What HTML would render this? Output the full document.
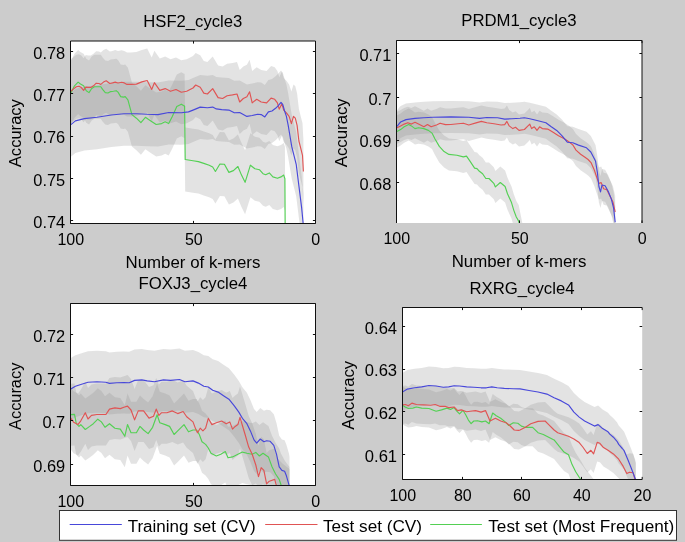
<!DOCTYPE html>
<html><head><meta charset="utf-8"><style>
html,body{margin:0;padding:0;background:#cccccc;}
body{width:685px;height:542px;overflow:hidden;font-family:"Liberation Sans",sans-serif;}
svg{display:block;will-change:transform;}
</style></head><body>
<svg width="685" height="542" viewBox="0 0 685 542" style="font-family:'Liberation Sans',sans-serif;font-size:16px">
<rect x="0" y="0" width="685" height="542" fill="#cccccc"/>
<defs>
<clipPath id="c1"><rect x="70.5" y="41.0" width="245.0" height="182.5"/></clipPath>
<clipPath id="c2"><rect x="396.5" y="40.5" width="245.5" height="182.5"/></clipPath>
<clipPath id="c3"><rect x="70.5" y="303.5" width="245.0" height="182.0"/></clipPath>
<clipPath id="c4"><rect x="402.5" y="307.5" width="239.70000000000005" height="172.0"/></clipPath>
</defs>
<rect x="70.5" y="41.0" width="245.0" height="182.5" fill="#fff"/>
<g clip-path="url(#c1)">
<polygon points="70.0,93.4 75.4,88.9 84.4,86.6 97.0,85.3 111.3,83.0 123.9,81.7 136.4,81.7 147.2,82.3 158.0,82.6 168.7,80.5 181.3,80.8 188.5,79.9 193.0,78.1 200.2,75.1 207.4,75.8 212.7,75.1 216.3,76.9 221.7,77.6 228.9,78.1 234.3,80.8 239.7,80.5 246.9,84.4 252.2,83.5 257.6,82.3 261.2,82.6 264.8,84.9 268.4,79.9 272.0,79.0 275.6,76.3 278.3,73.6 281.0,70.4 282.8,72.7 284.6,79.0 286.4,84.4 288.2,93.4 291.7,114.4 296.2,132.3 298.9,153.9 301.6,175.4 303.4,194.0 303.4,258.0 301.6,239.4 298.9,217.9 296.2,196.3 291.7,178.4 288.2,157.4 286.4,148.4 284.6,143.0 282.8,136.7 281.0,134.4 278.3,137.6 275.6,140.3 272.0,143.0 268.4,143.9 264.8,148.9 261.2,146.6 257.6,146.3 252.2,147.5 246.9,148.4 239.7,144.5 234.3,144.8 228.9,142.1 221.7,141.6 216.3,140.9 212.7,139.1 207.4,139.8 200.2,139.1 193.0,142.1 188.5,143.9 181.3,144.8 168.7,144.5 158.0,146.6 147.2,146.3 136.4,145.7 123.9,145.7 111.3,147.0 97.0,149.3 84.4,150.6 75.4,152.9 70.0,157.4" fill="#8f8f8f" fill-opacity="0.25"/>
<polygon points="70.0,59.5 71.4,58.7 73.6,56.9 76.3,54.7 79.0,54.2 81.3,55.6 83.6,58.3 85.8,55.1 88.1,55.4 90.8,55.4 93.5,53.8 96.2,51.2 99.0,51.5 100.8,52.4 103.5,50.1 106.2,48.8 109.8,51.5 112.5,50.9 115.2,50.1 118.0,51.0 121.6,50.3 124.3,50.9 127.0,52.4 131.0,52.4 136.4,52.1 141.8,49.9 147.2,48.5 151.7,57.5 154.4,50.7 159.8,58.4 165.2,56.6 170.5,59.3 176.0,57.5 181.3,60.2 186.7,59.3 193.0,56.0 195.7,53.0 200.2,55.3 203.8,61.1 207.4,62.0 212.7,56.6 218.1,65.6 222.6,66.5 227.1,63.8 232.5,62.9 237.0,62.0 239.7,70.0 243.3,66.5 246.9,64.7 249.6,59.8 252.2,70.9 256.7,67.3 261.2,70.0 266.6,70.9 271.1,66.1 274.7,67.3 277.4,70.9 279.2,77.2 281.9,71.8 283.7,78.1 286.4,80.8 289.1,84.4 291.4,91.6 293.5,84.4 295.3,86.2 297.1,93.4 298.9,109.0 300.7,116.2 302.5,123.3 303.4,139.5 303.4,203.5 302.5,187.3 300.7,180.2 298.9,173.0 297.1,157.4 295.3,150.2 293.5,148.4 291.4,155.6 289.1,148.4 286.4,144.8 283.7,142.1 281.9,135.8 279.2,141.2 277.4,134.9 274.7,131.3 271.1,130.1 266.6,134.9 261.2,134.0 256.7,131.3 252.2,134.9 249.6,123.8 246.9,128.7 243.3,130.5 239.7,134.0 237.0,126.0 232.5,126.9 227.1,127.8 222.6,130.5 218.1,129.6 212.7,120.6 207.4,126.0 203.8,125.1 200.2,119.3 195.7,117.0 193.0,120.0 186.7,123.3 181.3,124.2 176.0,121.5 170.5,123.3 165.2,120.6 159.8,122.4 154.4,114.7 151.7,121.5 147.2,112.5 141.8,113.9 136.4,116.1 131.0,116.4 127.0,116.4 124.3,114.9 121.6,114.3 118.0,115.0 115.2,114.1 112.5,114.9 109.8,115.5 106.2,112.8 103.5,114.1 100.8,116.4 99.0,115.5 96.2,115.2 93.5,117.8 90.8,119.4 88.1,119.4 85.8,119.1 83.6,122.3 81.3,119.6 79.0,118.2 76.3,118.7 73.6,120.9 71.4,122.7 70.0,123.5" fill="#8f8f8f" fill-opacity="0.25"/>
<polygon points="70.0,61.0 71.4,60.1 74.5,53.8 78.1,50.1 80.4,52.0 83.6,53.8 86.3,58.7 89.0,60.6 91.7,56.5 94.4,54.7 97.1,54.7 100.8,54.7 102.6,57.4 105.3,60.6 108.0,61.0 110.7,59.6 113.4,59.2 116.2,58.7 118.0,60.1 120.7,64.6 123.4,65.1 125.2,64.6 127.9,67.8 131.9,82.6 136.4,86.2 140.9,90.7 145.4,85.3 150.8,88.9 156.2,92.5 161.6,91.6 165.2,89.8 168.7,91.6 172.3,84.4 176.8,74.5 181.3,72.2 183.5,73.6 184.6,74.0 185.2,127.5 193.0,128.7 198.4,129.6 203.8,131.4 209.2,133.2 212.7,135.0 215.4,139.5 219.9,132.0 224.4,132.3 228.9,140.4 233.4,138.6 237.9,134.5 241.5,143.1 245.1,150.3 250.4,133.2 254.9,136.8 259.4,137.7 263.0,141.7 265.7,142.7 269.3,140.9 272.9,144.9 277.4,146.3 281.0,144.9 283.7,143.1 284.9,146.7 285.5,258.0 285.5,322.0 284.9,210.7 283.7,207.1 281.0,208.9 277.4,210.3 272.9,208.9 269.3,204.9 265.7,206.7 263.0,205.7 259.4,201.7 254.9,200.8 250.4,197.2 245.1,214.3 241.5,207.1 237.9,198.5 233.4,202.6 228.9,204.4 224.4,196.3 219.9,196.0 215.4,203.5 212.7,199.0 209.2,197.2 203.8,195.4 198.4,193.6 193.0,192.7 185.2,191.5 184.6,138.0 183.5,137.6 181.3,136.2 176.8,138.5 172.3,148.4 168.7,155.6 165.2,153.8 161.6,155.6 156.2,156.5 150.8,152.9 145.4,149.3 140.9,154.7 136.4,150.2 131.9,146.6 127.9,131.8 125.2,128.6 123.4,129.1 120.7,128.6 118.0,124.1 116.2,122.7 113.4,123.2 110.7,123.6 108.0,125.0 105.3,124.6 102.6,121.4 100.8,118.7 97.1,118.7 94.4,118.7 91.7,120.5 89.0,124.6 86.3,122.7 83.6,117.8 80.4,116.0 78.1,114.1 74.5,117.8 71.4,124.1 70.0,125.0" fill="#8f8f8f" fill-opacity="0.25"/>
<polyline points="70.0,93.0 71.4,92.1 74.5,85.8 78.1,82.1 80.4,84.0 83.6,85.8 86.3,90.7 89.0,92.6 91.7,88.5 94.4,86.7 97.1,86.7 100.8,86.7 102.6,89.4 105.3,92.6 108.0,93.0 110.7,91.6 113.4,91.2 116.2,90.7 118.0,92.1 120.7,96.6 123.4,97.1 125.2,96.6 127.9,99.8 131.9,114.6 136.4,118.2 140.9,122.7 145.4,117.3 150.8,120.9 156.2,124.5 161.6,123.6 165.2,121.8 168.7,123.6 172.3,116.4 176.8,106.5 181.3,104.2 183.5,105.6 184.6,106.0 185.2,159.5 193.0,160.7 198.4,161.6 203.8,163.4 209.2,165.2 212.7,167.0 215.4,171.5 219.9,164.0 224.4,164.3 228.9,172.4 233.4,170.6 237.9,166.5 241.5,175.1 245.1,182.3 250.4,165.2 254.9,168.8 259.4,169.7 263.0,173.7 265.7,174.7 269.3,172.9 272.9,176.9 277.4,178.3 281.0,176.9 283.7,175.1 284.9,178.7 285.5,290.0" fill="none" stroke="#54d054" stroke-width="1.15" stroke-linejoin="round"/>
<polyline points="70.0,91.5 71.4,90.7 73.6,88.9 76.3,86.7 79.0,86.2 81.3,87.6 83.6,90.3 85.8,87.1 88.1,87.4 90.8,87.4 93.5,85.8 96.2,83.2 99.0,83.5 100.8,84.4 103.5,82.1 106.2,80.8 109.8,83.5 112.5,82.9 115.2,82.1 118.0,83.0 121.6,82.3 124.3,82.9 127.0,84.4 131.0,84.4 136.4,84.1 141.8,81.9 147.2,80.5 151.7,89.5 154.4,82.7 159.8,90.4 165.2,88.6 170.5,91.3 176.0,89.5 181.3,92.2 186.7,91.3 193.0,88.0 195.7,85.0 200.2,87.3 203.8,93.1 207.4,94.0 212.7,88.6 218.1,97.6 222.6,98.5 227.1,95.8 232.5,94.9 237.0,94.0 239.7,102.0 243.3,98.5 246.9,96.7 249.6,91.8 252.2,102.9 256.7,99.3 261.2,102.0 266.6,102.9 271.1,98.1 274.7,99.3 277.4,102.9 279.2,109.2 281.9,103.8 283.7,110.1 286.4,112.8 289.1,116.4 291.4,123.6 293.5,116.4 295.3,118.2 297.1,125.4 298.9,141.0 300.7,148.2 302.5,155.3 303.4,171.5" fill="none" stroke="#e05454" stroke-width="1.15" stroke-linejoin="round"/>
<polyline points="70.0,125.4 75.4,120.9 84.4,118.6 97.0,117.3 111.3,115.0 123.9,113.7 136.4,113.7 147.2,114.3 158.0,114.6 168.7,112.5 181.3,112.8 188.5,111.9 193.0,110.1 200.2,107.1 207.4,107.8 212.7,107.1 216.3,108.9 221.7,109.6 228.9,110.1 234.3,112.8 239.7,112.5 246.9,116.4 252.2,115.5 257.6,114.3 261.2,114.6 264.8,116.9 268.4,111.9 272.0,111.0 275.6,108.3 278.3,105.6 281.0,102.4 282.8,104.7 284.6,111.0 286.4,116.4 288.2,125.4 291.7,146.4 296.2,164.3 298.9,185.9 301.6,207.4 303.4,226.0" fill="none" stroke="#4848da" stroke-width="1.15" stroke-linejoin="round"/>
</g>
<path d="M70.5,41.0V223.5M315.5,41.0V223.5M70.5,41.0H315.5M70.5,223.5H315.5M70.5,51.5h2.6M315.5,51.5h-2.6M70.5,93.5h2.6M315.5,93.5h-2.6M70.5,136.5h2.6M315.5,136.5h-2.6M70.5,178.5h2.6M315.5,178.5h-2.6M70.5,220.5h2.6M315.5,220.5h-2.6M70.5,223.5v-2.6M70.5,41.0v2.6M193.5,223.5v-2.6M193.5,41.0v2.6M315.5,223.5v-2.6M315.5,41.0v2.6" stroke="#111" stroke-width="1" fill="none"/>
<g fill="#000">
<text x="65.19" y="58.50" text-anchor="end" textLength="31.89" lengthAdjust="spacingAndGlyphs">0.78</text>
<text x="65.19" y="100.90" text-anchor="end" textLength="31.89" lengthAdjust="spacingAndGlyphs">0.77</text>
<text x="65.19" y="143.25" text-anchor="end" textLength="31.89" lengthAdjust="spacingAndGlyphs">0.76</text>
<text x="65.19" y="185.60" text-anchor="end" textLength="31.89" lengthAdjust="spacingAndGlyphs">0.75</text>
<text x="65.19" y="228.00" text-anchor="end" textLength="31.89" lengthAdjust="spacingAndGlyphs">0.74</text>
<text x="70.8" y="244.80" text-anchor="middle">100</text>
<text x="193.8" y="244.80" text-anchor="middle">50</text>
<text x="315.8" y="244.80" text-anchor="middle">0</text>
<text x="143.30" y="27.10" textLength="99.00" lengthAdjust="spacingAndGlyphs">HSF2_cycle3</text>
<text x="125.50" y="268.30" textLength="134.92" lengthAdjust="spacingAndGlyphs">Number of k-mers</text>
<text transform="translate(20.80,167.20) rotate(-90)" x="0" y="0" textLength="68.10" lengthAdjust="spacingAndGlyphs">Accuracy</text>
</g>
<rect x="396.5" y="40.5" width="245.5" height="182.5" fill="#fff"/>
<g clip-path="url(#c2)">
<polygon points="397.0,110.5 399.0,107.8 400.6,106.0 406.0,103.6 415.0,102.4 423.9,101.8 432.9,101.3 450.9,100.9 468.8,101.3 479.6,102.4 486.8,101.5 497.5,101.8 504.7,103.1 511.9,102.7 520.0,102.2 524.4,101.8 529.8,102.7 537.0,104.5 545.9,106.7 551.3,110.8 556.7,114.4 562.1,119.8 567.3,126.2 572.8,126.8 578.5,129.1 586.5,131.8 590.8,136.0 595.5,145.0 597.4,156.6 598.9,170.5 600.5,175.9 602.0,169.0 605.1,169.7 608.2,175.2 611.3,182.9 613.6,192.2 615.2,206.2 615.2,238.2 613.6,224.2 611.3,214.9 608.2,207.2 605.1,201.7 602.0,201.0 600.5,207.9 598.9,202.5 597.4,188.6 595.5,177.0 590.8,168.0 586.5,163.8 578.5,161.1 572.8,158.8 567.3,158.2 562.1,151.8 556.7,146.4 551.3,142.8 545.9,138.7 537.0,136.5 529.8,134.7 524.4,133.8 520.0,134.2 511.9,134.7 504.7,135.1 497.5,133.8 486.8,133.5 479.6,134.4 468.8,133.3 450.9,132.9 432.9,133.3 423.9,133.8 415.0,134.4 406.0,135.6 400.6,138.0 399.0,139.8 397.0,142.5" fill="#8f8f8f" fill-opacity="0.25"/>
<polygon points="397.0,111.7 400.6,109.9 404.2,108.1 407.8,106.7 411.4,108.1 415.0,106.3 418.5,108.1 423.9,110.8 427.5,108.5 431.1,110.8 436.5,109.0 440.1,107.2 445.5,108.6 450.9,108.5 458.0,107.8 463.4,107.2 468.8,109.0 476.0,106.9 481.4,105.4 486.8,106.7 494.0,107.8 501.1,109.0 504.7,108.6 506.9,105.4 509.2,109.9 512.8,112.6 515.5,111.3 519.0,114.4 524.4,113.5 528.0,109.9 529.8,108.1 531.6,112.6 534.3,110.8 537.0,114.4 539.6,110.8 542.3,112.6 547.7,113.1 553.1,116.2 558.5,119.8 563.9,122.5 569.3,126.1 572.9,129.0 576.0,134.1 580.6,138.2 585.0,141.2 588.1,143.5 591.0,146.6 594.3,154.0 596.8,161.5 598.9,167.4 601.2,166.6 603.6,172.8 606.7,173.6 609.8,179.8 612.9,186.0 615.2,196.0 615.2,228.0 612.9,218.0 609.8,211.8 606.7,205.6 603.6,204.8 601.2,198.6 598.9,199.4 596.8,193.5 594.3,186.0 591.0,178.6 588.1,175.5 585.0,173.2 580.6,170.2 576.0,166.1 572.9,161.0 569.3,158.1 563.9,154.5 558.5,151.8 553.1,148.2 547.7,145.1 542.3,144.6 539.6,142.8 537.0,146.4 534.3,142.8 531.6,144.6 529.8,140.1 528.0,141.9 524.4,145.5 519.0,146.4 515.5,143.3 512.8,144.6 509.2,141.9 506.9,137.4 504.7,140.6 501.1,141.0 494.0,139.8 486.8,138.7 481.4,137.4 476.0,138.9 468.8,141.0 463.4,139.2 458.0,139.8 450.9,140.5 445.5,140.6 440.1,139.2 436.5,141.0 431.1,142.8 427.5,140.5 423.9,142.8 418.5,140.1 415.0,138.3 411.4,140.1 407.8,138.7 404.2,140.1 400.6,141.9 397.0,143.7" fill="#8f8f8f" fill-opacity="0.25"/>
<polygon points="397.0,115.5 400.6,113.6 404.2,110.8 408.7,108.5 411.4,109.9 415.0,112.6 418.5,111.7 423.9,112.6 428.4,114.4 432.0,117.1 435.0,123.0 439.3,130.4 444.1,135.6 448.9,138.4 456.9,139.2 463.3,140.9 466.5,140.1 469.8,144.9 474.6,152.1 477.0,152.6 479.4,155.3 482.6,157.7 485.8,162.5 489.0,162.5 493.8,167.3 495.4,170.9 500.3,166.5 505.1,170.5 507.5,177.8 511.5,186.6 513.9,194.6 516.3,201.0 518.7,205.1 522.5,224.0 526.0,239.0 526.0,271.0 522.5,256.0 518.7,237.1 516.3,233.0 513.9,226.6 511.5,218.6 507.5,209.8 505.1,202.5 500.3,198.5 495.4,202.9 493.8,199.3 489.0,194.5 485.8,194.5 482.6,189.7 479.4,187.3 477.0,184.6 474.6,184.1 469.8,176.9 466.5,172.1 463.3,172.9 456.9,171.2 448.9,170.4 444.1,167.6 439.3,162.4 435.0,155.0 432.0,149.1 428.4,146.4 423.9,144.6 418.5,143.7 415.0,144.6 411.4,141.9 408.7,140.5 404.2,142.8 400.6,145.6 397.0,147.5" fill="#8f8f8f" fill-opacity="0.25"/>
<polyline points="397.0,131.5 400.6,129.6 404.2,126.8 408.7,124.5 411.4,125.9 415.0,128.6 418.5,127.7 423.9,128.6 428.4,130.4 432.0,133.1 435.0,139.0 439.3,146.4 444.1,151.6 448.9,154.4 456.9,155.2 463.3,156.9 466.5,156.1 469.8,160.9 474.6,168.1 477.0,168.6 479.4,171.3 482.6,173.7 485.8,178.5 489.0,178.5 493.8,183.3 495.4,186.9 500.3,182.5 505.1,186.5 507.5,193.8 511.5,202.6 513.9,210.6 516.3,217.0 518.7,221.1 522.5,240.0 526.0,255.0" fill="none" stroke="#54d054" stroke-width="1.15" stroke-linejoin="round"/>
<polyline points="397.0,127.7 400.6,125.9 404.2,124.1 407.8,122.7 411.4,124.1 415.0,122.3 418.5,124.1 423.9,126.8 427.5,124.5 431.1,126.8 436.5,125.0 440.1,123.2 445.5,124.6 450.9,124.5 458.0,123.8 463.4,123.2 468.8,125.0 476.0,122.9 481.4,121.4 486.8,122.7 494.0,123.8 501.1,125.0 504.7,124.6 506.9,121.4 509.2,125.9 512.8,128.6 515.5,127.3 519.0,130.4 524.4,129.5 528.0,125.9 529.8,124.1 531.6,128.6 534.3,126.8 537.0,130.4 539.6,126.8 542.3,128.6 547.7,129.1 553.1,132.2 558.5,135.8 563.9,138.5 569.3,142.1 572.9,145.0 576.0,150.1 580.6,154.2 585.0,157.2 588.1,159.5 591.0,162.6 594.3,170.0 596.8,177.5 598.9,183.4 601.2,182.6 603.6,188.8 606.7,189.6 609.8,195.8 612.9,202.0 615.2,212.0" fill="none" stroke="#e05454" stroke-width="1.15" stroke-linejoin="round"/>
<polyline points="397.0,126.5 399.0,123.8 400.6,122.0 406.0,119.6 415.0,118.4 423.9,117.8 432.9,117.3 450.9,116.9 468.8,117.3 479.6,118.4 486.8,117.5 497.5,117.8 504.7,119.1 511.9,118.7 520.0,118.2 524.4,117.8 529.8,118.7 537.0,120.5 545.9,122.7 551.3,126.8 556.7,130.4 562.1,135.8 567.3,142.2 572.8,142.8 578.5,145.1 586.5,147.8 590.8,152.0 595.5,161.0 597.4,172.6 598.9,186.5 600.5,191.9 602.0,185.0 605.1,185.7 608.2,191.2 611.3,198.9 613.6,208.2 615.2,222.2" fill="none" stroke="#4848da" stroke-width="1.15" stroke-linejoin="round"/>
</g>
<path d="M396.5,40.5V223.0M642.0,40.5V223.0M396.5,40.5H642.0M396.5,53.5h2.6M642.0,53.5h-2.6M396.5,97.5h2.6M642.0,97.5h-2.6M396.5,140.5h2.6M642.0,140.5h-2.6M396.5,182.5h2.6M642.0,182.5h-2.6M396.5,223.0v-2.6M396.5,40.5v2.6M519.5,223.0v-2.6M519.5,40.5v2.6M642.0,223.0v-2.6M642.0,40.5v2.6" stroke="#111" stroke-width="1" fill="none"/>
<g fill="#000">
<text x="391.29" y="60.70" text-anchor="end" textLength="31.89" lengthAdjust="spacingAndGlyphs">0.71</text>
<text x="391.29" y="104.50" text-anchor="end" textLength="22.78" lengthAdjust="spacingAndGlyphs">0.7</text>
<text x="391.29" y="147.30" text-anchor="end" textLength="31.89" lengthAdjust="spacingAndGlyphs">0.69</text>
<text x="391.29" y="189.95" text-anchor="end" textLength="31.89" lengthAdjust="spacingAndGlyphs">0.68</text>
<text x="396.8" y="243.90" text-anchor="middle">100</text>
<text x="519.8" y="243.90" text-anchor="middle">50</text>
<text x="642.3" y="243.90" text-anchor="middle">0</text>
<text x="461.30" y="25.90" textLength="115.21" lengthAdjust="spacingAndGlyphs">PRDM1_cycle3</text>
<text x="451.70" y="266.60" textLength="134.72" lengthAdjust="spacingAndGlyphs">Number of k-mers</text>
<text transform="translate(347.30,167.20) rotate(-90)" x="0" y="0" textLength="68.90" lengthAdjust="spacingAndGlyphs">Accuracy</text>
</g>
<rect x="70.5" y="303.5" width="245.0" height="182.0" fill="#fff"/>
<g clip-path="url(#c3)">
<polygon points="70.0,358.4 75.4,355.3 80.8,353.5 88.0,351.2 97.0,350.7 105.9,351.2 109.5,352.4 116.7,351.7 123.9,351.5 129.2,351.7 134.6,349.4 141.8,348.9 147.2,349.9 154.4,350.7 163.4,348.9 170.5,349.4 179.5,348.5 184.9,350.7 193.0,349.9 198.4,352.1 203.8,355.3 208.3,356.0 212.7,359.3 218.1,361.1 223.5,364.7 228.9,368.2 234.3,374.8 238.8,381.1 242.4,387.3 246.9,392.7 250.4,399.9 254.0,408.9 256.7,412.1 260.3,408.0 263.9,410.7 266.6,409.8 270.2,410.3 273.8,414.3 276.5,423.2 279.2,435.8 281.9,439.4 284.6,440.3 286.4,444.8 289.0,453.8 289.5,457.0 289.5,519.0 289.0,515.8 286.4,506.8 284.6,502.3 281.9,501.4 279.2,497.8 276.5,485.2 273.8,476.3 270.2,472.3 266.6,471.8 263.9,472.7 260.3,470.0 256.7,474.1 254.0,470.9 250.4,461.9 246.9,454.7 242.4,449.3 238.8,443.1 234.3,436.8 228.9,430.2 223.5,426.7 218.1,423.1 212.7,421.3 208.3,418.0 203.8,417.3 198.4,414.1 193.0,411.9 184.9,412.7 179.5,410.5 170.5,411.4 163.4,410.9 154.4,412.7 147.2,411.9 141.8,410.9 134.6,411.4 129.2,413.7 123.9,413.5 116.7,413.7 109.5,414.4 105.9,413.2 97.0,412.7 88.0,413.2 80.8,415.5 75.4,417.3 70.0,420.4" fill="#8f8f8f" fill-opacity="0.25"/>
<polygon points="70.0,386.2 73.6,391.2 78.1,393.4 80.8,389.8 85.3,381.7 88.0,388.0 91.5,384.4 96.9,383.5 102.3,383.5 105.9,383.5 109.5,378.1 114.9,376.9 120.3,377.6 123.9,376.3 127.5,375.1 131.0,379.0 134.6,388.9 138.2,379.9 143.6,379.9 149.0,387.1 153.5,385.3 156.2,378.1 158.9,384.4 161.6,381.7 166.9,381.7 172.3,379.9 177.7,382.6 183.1,380.5 186.7,385.8 193.0,390.9 195.7,398.1 197.5,401.7 200.2,397.2 202.9,399.9 205.6,397.2 208.3,387.3 211.9,393.6 216.3,391.8 221.7,390.0 226.2,392.7 229.8,390.9 232.5,398.1 235.2,395.4 237.9,393.6 240.0,386.4 242.4,394.5 245.1,403.5 248.7,416.1 252.2,423.2 255.8,434.0 258.5,445.7 261.2,436.7 263.9,439.4 266.6,452.9 269.3,450.2 274.7,448.4 275.9,452.9 278.0,459.0 283.0,464.0 289.5,469.0 289.5,531.0 283.0,526.0 278.0,521.0 275.9,514.9 274.7,510.4 269.3,512.2 266.6,514.9 263.9,501.4 261.2,498.7 258.5,507.7 255.8,496.0 252.2,485.2 248.7,478.1 245.1,465.5 242.4,456.5 240.0,448.4 237.9,455.6 235.2,457.4 232.5,460.1 229.8,452.9 226.2,454.7 221.7,452.0 216.3,453.8 211.9,455.6 208.3,449.3 205.6,459.2 202.9,461.9 200.2,459.2 197.5,463.7 195.7,460.1 193.0,452.9 186.7,447.8 183.1,442.5 177.7,444.6 172.3,441.9 166.9,443.7 161.6,443.7 158.9,446.4 156.2,440.1 153.5,447.3 149.0,449.1 143.6,441.9 138.2,441.9 134.6,450.9 131.0,441.0 127.5,437.1 123.9,438.3 120.3,439.6 114.9,438.9 109.5,440.1 105.9,445.5 102.3,445.5 96.9,445.5 91.5,446.4 88.0,450.0 85.3,443.7 80.8,451.8 78.1,455.4 73.6,453.2 70.0,448.2" fill="#8f8f8f" fill-opacity="0.25"/>
<polygon points="70.0,383.7 74.5,383.4 76.3,392.7 79.0,395.4 80.8,393.6 85.3,398.5 89.7,395.4 93.3,392.7 97.8,388.2 101.4,390.9 105.0,396.3 109.5,392.7 114.9,397.2 120.3,398.1 124.8,405.3 127.5,393.6 131.0,401.7 136.4,401.7 140.0,395.4 143.6,399.0 148.1,402.6 152.6,396.3 157.1,383.7 159.8,391.8 165.2,393.6 169.6,395.4 174.1,403.5 177.7,399.9 184.0,393.6 188.5,400.8 193.0,399.0 196.6,399.0 199.3,403.5 202.0,410.7 205.6,413.4 208.3,417.0 211.0,422.3 216.3,425.0 220.8,423.2 225.3,420.6 228.0,426.8 232.5,425.9 237.9,423.2 242.4,421.1 246.9,422.3 252.2,423.2 255.8,421.4 259.4,425.0 263.0,422.3 268.4,425.9 272.0,435.8 275.6,443.0 279.2,448.4 281.0,453.8 285.0,461.0 289.5,467.0 289.5,529.0 285.0,523.0 281.0,515.8 279.2,510.4 275.6,505.0 272.0,497.8 268.4,487.9 263.0,484.3 259.4,487.0 255.8,483.4 252.2,485.2 246.9,484.3 242.4,483.1 237.9,485.2 232.5,487.9 228.0,488.8 225.3,482.6 220.8,485.2 216.3,487.0 211.0,484.3 208.3,479.0 205.6,475.4 202.0,472.7 199.3,465.5 196.6,461.0 193.0,461.0 188.5,462.8 184.0,455.6 177.7,461.9 174.1,465.5 169.6,457.4 165.2,455.6 159.8,453.8 157.1,445.7 152.6,458.3 148.1,464.6 143.6,461.0 140.0,457.4 136.4,463.7 131.0,463.7 127.5,455.6 124.8,467.3 120.3,460.1 114.9,459.2 109.5,454.7 105.0,458.3 101.4,452.9 97.8,450.2 93.3,454.7 89.7,457.4 85.3,460.5 80.8,455.6 79.0,457.4 76.3,454.7 74.5,445.4 70.0,445.7" fill="#8f8f8f" fill-opacity="0.25"/>
<polyline points="70.0,414.7 74.5,414.4 76.3,423.7 79.0,426.4 80.8,424.6 85.3,429.5 89.7,426.4 93.3,423.7 97.8,419.2 101.4,421.9 105.0,427.3 109.5,423.7 114.9,428.2 120.3,429.1 124.8,436.3 127.5,424.6 131.0,432.7 136.4,432.7 140.0,426.4 143.6,430.0 148.1,433.6 152.6,427.3 157.1,414.7 159.8,422.8 165.2,424.6 169.6,426.4 174.1,434.5 177.7,430.9 184.0,424.6 188.5,431.8 193.0,430.0 196.6,430.0 199.3,434.5 202.0,441.7 205.6,444.4 208.3,448.0 211.0,453.3 216.3,456.0 220.8,454.2 225.3,451.6 228.0,457.8 232.5,456.9 237.9,454.2 242.4,452.1 246.9,453.3 252.2,454.2 255.8,452.4 259.4,456.0 263.0,453.3 268.4,456.9 272.0,466.8 275.6,474.0 279.2,479.4 281.0,484.8 285.0,492.0 289.5,498.0" fill="none" stroke="#54d054" stroke-width="1.15" stroke-linejoin="round"/>
<polyline points="70.0,417.2 73.6,422.2 78.1,424.4 80.8,420.8 85.3,412.7 88.0,419.0 91.5,415.4 96.9,414.5 102.3,414.5 105.9,414.5 109.5,409.1 114.9,407.9 120.3,408.6 123.9,407.3 127.5,406.1 131.0,410.0 134.6,419.9 138.2,410.9 143.6,410.9 149.0,418.1 153.5,416.3 156.2,409.1 158.9,415.4 161.6,412.7 166.9,412.7 172.3,410.9 177.7,413.6 183.1,411.5 186.7,416.8 193.0,421.9 195.7,429.1 197.5,432.7 200.2,428.2 202.9,430.9 205.6,428.2 208.3,418.3 211.9,424.6 216.3,422.8 221.7,421.0 226.2,423.7 229.8,421.9 232.5,429.1 235.2,426.4 237.9,424.6 240.0,417.4 242.4,425.5 245.1,434.5 248.7,447.1 252.2,454.2 255.8,465.0 258.5,476.7 261.2,467.7 263.9,470.4 266.6,483.9 269.3,481.2 274.7,479.4 275.9,483.9 278.0,490.0 283.0,495.0 289.5,500.0" fill="none" stroke="#e05454" stroke-width="1.15" stroke-linejoin="round"/>
<polyline points="70.0,389.4 75.4,386.3 80.8,384.5 88.0,382.2 97.0,381.7 105.9,382.2 109.5,383.4 116.7,382.7 123.9,382.5 129.2,382.7 134.6,380.4 141.8,379.9 147.2,380.9 154.4,381.7 163.4,379.9 170.5,380.4 179.5,379.5 184.9,381.7 193.0,380.9 198.4,383.1 203.8,386.3 208.3,387.0 212.7,390.3 218.1,392.1 223.5,395.7 228.9,399.2 234.3,405.8 238.8,412.1 242.4,418.3 246.9,423.7 250.4,430.9 254.0,439.9 256.7,443.1 260.3,439.0 263.9,441.7 266.6,440.8 270.2,441.3 273.8,445.3 276.5,454.2 279.2,466.8 281.9,470.4 284.6,471.3 286.4,475.8 289.0,484.8 289.5,488.0" fill="none" stroke="#4848da" stroke-width="1.15" stroke-linejoin="round"/>
</g>
<path d="M70.5,303.5V485.5M315.5,303.5V485.5M70.5,303.5H315.5M70.5,485.5H315.5M70.5,334.5h2.6M315.5,334.5h-2.6M70.5,377.5h2.6M315.5,377.5h-2.6M70.5,420.5h2.6M315.5,420.5h-2.6M70.5,464.5h2.6M315.5,464.5h-2.6M70.5,485.5v-2.6M70.5,303.5v2.6M193.5,485.5v-2.6M193.5,303.5v2.6M315.5,485.5v-2.6M315.5,303.5v2.6" stroke="#111" stroke-width="1" fill="none"/>
<g fill="#000">
<text x="65.19" y="341.50" text-anchor="end" textLength="31.89" lengthAdjust="spacingAndGlyphs">0.72</text>
<text x="65.19" y="384.70" text-anchor="end" textLength="31.89" lengthAdjust="spacingAndGlyphs">0.71</text>
<text x="65.19" y="427.70" text-anchor="end" textLength="22.78" lengthAdjust="spacingAndGlyphs">0.7</text>
<text x="65.19" y="471.50" text-anchor="end" textLength="31.89" lengthAdjust="spacingAndGlyphs">0.69</text>
<text x="70.8" y="506.90" text-anchor="middle">100</text>
<text x="193.8" y="506.90" text-anchor="middle">50</text>
<text x="315.8" y="506.90" text-anchor="middle">0</text>
<text x="138.60" y="288.80" textLength="108.79" lengthAdjust="spacingAndGlyphs">FOXJ3_cycle4</text>
<text transform="translate(20.80,429.90) rotate(-90)" x="0" y="0" textLength="67.20" lengthAdjust="spacingAndGlyphs">Accuracy</text>
</g>
<rect x="402.5" y="307.5" width="239.70000000000005" height="172.0" fill="#fff"/>
<g clip-path="url(#c4)">
<polygon points="402.0,373.3 407.4,370.1 414.6,368.8 421.7,367.9 428.9,366.5 436.1,367.0 443.3,368.3 448.7,367.9 454.1,366.7 459.5,367.0 466.6,367.9 473.8,368.3 481.0,368.8 486.4,368.8 491.8,367.9 497.2,368.8 504.3,369.4 513.3,369.7 520.0,369.9 529.0,371.5 538.0,373.0 546.9,375.1 554.1,378.7 561.3,381.9 568.5,385.9 573.9,393.1 579.2,398.1 584.6,402.0 590.0,404.7 594.5,407.1 598.1,405.6 602.6,409.6 608.0,412.8 609.8,415.1 613.4,418.2 617.0,422.3 618.7,425.4 622.3,429.5 624.1,431.7 627.7,440.2 631.3,449.2 634.0,456.4 635.3,460.0 636.0,463.0 636.0,501.0 635.3,498.0 634.0,494.4 631.3,487.2 627.7,478.2 624.1,469.7 622.3,467.5 618.7,463.4 617.0,460.3 613.4,456.2 609.8,453.1 608.0,450.8 602.6,447.6 598.1,443.6 594.5,445.1 590.0,442.7 584.6,440.0 579.2,436.1 573.9,431.1 568.5,423.9 561.3,419.9 554.1,416.7 546.9,413.1 538.0,411.0 529.0,409.5 520.0,407.9 513.3,407.7 504.3,407.4 497.2,406.8 491.8,405.9 486.4,406.8 481.0,406.8 473.8,406.3 466.6,405.9 459.5,405.0 454.1,404.7 448.7,405.9 443.3,406.3 436.1,405.0 428.9,404.5 421.7,405.9 414.6,406.8 407.4,408.1 402.0,411.3" fill="#8f8f8f" fill-opacity="0.25"/>
<polygon points="402.0,385.9 405.6,385.5 408.3,386.8 411.9,384.1 416.4,385.5 423.5,385.9 430.7,386.2 435.2,385.5 439.7,387.3 445.1,387.3 448.7,388.6 454.1,388.0 457.7,391.6 461.2,390.9 466.6,392.7 470.2,392.2 475.6,391.6 481.0,393.1 485.5,391.6 490.0,402.0 495.4,399.3 500.7,402.0 506.1,403.8 509.7,406.5 514.2,411.0 518.7,411.4 520.0,411.0 525.4,408.3 530.8,404.7 538.0,402.4 545.1,402.0 548.7,405.6 554.1,411.0 557.7,413.7 563.1,415.5 568.5,417.3 573.9,420.0 579.2,423.6 582.8,428.0 587.3,434.5 590.9,431.3 593.6,434.9 597.2,423.4 599.9,424.3 603.5,428.6 608.0,431.3 613.4,434.9 618.7,440.2 623.2,447.4 626.8,454.6 629.5,453.2 633.1,453.7 634.9,460.0 635.5,463.0 635.5,501.0 634.9,498.0 633.1,491.7 629.5,491.2 626.8,492.6 623.2,485.4 618.7,478.2 613.4,472.9 608.0,469.3 603.5,466.6 599.9,462.3 597.2,461.4 593.6,472.9 590.9,469.3 587.3,472.5 582.8,466.0 579.2,461.6 573.9,458.0 568.5,455.3 563.1,453.5 557.7,451.7 554.1,449.0 548.7,443.6 545.1,440.0 538.0,440.4 530.8,442.7 525.4,446.3 520.0,449.0 518.7,449.4 514.2,449.0 509.7,444.5 506.1,441.8 500.7,440.0 495.4,437.3 490.0,440.0 485.5,429.6 481.0,431.1 475.6,429.6 470.2,430.2 466.6,430.7 461.2,428.9 457.7,429.6 454.1,426.0 448.7,426.6 445.1,425.3 439.7,425.3 435.2,423.5 430.7,424.2 423.5,423.9 416.4,423.5 411.9,422.1 408.3,424.8 405.6,423.5 402.0,423.9" fill="#8f8f8f" fill-opacity="0.25"/>
<polygon points="402.0,385.9 404.7,387.7 408.3,389.5 412.8,389.1 416.4,388.0 421.7,389.1 428.9,389.5 436.1,392.2 441.5,390.9 446.9,389.1 450.5,390.4 454.1,388.6 456.8,392.2 459.5,394.9 463.0,391.3 465.7,395.8 468.4,401.1 471.1,404.7 473.8,402.0 477.4,401.7 481.9,402.9 485.5,402.0 489.1,404.7 492.7,394.0 496.3,396.7 500.7,399.3 505.2,402.9 508.8,406.5 513.3,403.8 517.8,404.2 521.4,407.1 525.0,408.3 532.6,408.3 538.0,413.7 543.3,415.5 548.7,418.2 554.1,420.9 557.7,425.4 559.5,427.7 564.0,433.1 568.5,435.8 572.1,445.6 575.7,452.8 579.2,458.2 581.0,461.0 585.0,468.0 595.0,481.0 610.0,496.0 635.0,516.0 635.0,554.0 610.0,534.0 595.0,519.0 585.0,506.0 581.0,499.0 579.2,496.2 575.7,490.8 572.1,483.6 568.5,473.8 564.0,471.1 559.5,465.7 557.7,463.4 554.1,458.9 548.7,456.2 543.3,453.5 538.0,451.7 532.6,446.3 525.0,446.3 521.4,445.1 517.8,442.2 513.3,441.8 508.8,444.5 505.2,440.9 500.7,437.3 496.3,434.7 492.7,432.0 489.1,442.7 485.5,440.0 481.9,440.9 477.4,439.7 473.8,440.0 471.1,442.7 468.4,439.1 465.7,433.8 463.0,429.3 459.5,432.9 456.8,430.2 454.1,426.6 450.5,428.4 446.9,427.1 441.5,428.9 436.1,430.2 428.9,427.5 421.7,427.1 416.4,426.0 412.8,427.1 408.3,427.5 404.7,425.7 402.0,423.9" fill="#8f8f8f" fill-opacity="0.25"/>
<polyline points="402.0,404.9 404.7,406.7 408.3,408.5 412.8,408.1 416.4,407.0 421.7,408.1 428.9,408.5 436.1,411.2 441.5,409.9 446.9,408.1 450.5,409.4 454.1,407.6 456.8,411.2 459.5,413.9 463.0,410.3 465.7,414.8 468.4,420.1 471.1,423.7 473.8,421.0 477.4,420.7 481.9,421.9 485.5,421.0 489.1,423.7 492.7,413.0 496.3,415.7 500.7,418.3 505.2,421.9 508.8,425.5 513.3,422.8 517.8,423.2 521.4,426.1 525.0,427.3 532.6,427.3 538.0,432.7 543.3,434.5 548.7,437.2 554.1,439.9 557.7,444.4 559.5,446.7 564.0,452.1 568.5,454.8 572.1,464.6 575.7,471.8 579.2,477.2 581.0,480.0 585.0,487.0 595.0,500.0 610.0,515.0 635.0,535.0" fill="none" stroke="#54d054" stroke-width="1.15" stroke-linejoin="round"/>
<polyline points="402.0,404.9 405.6,404.5 408.3,405.8 411.9,403.1 416.4,404.5 423.5,404.9 430.7,405.2 435.2,404.5 439.7,406.3 445.1,406.3 448.7,407.6 454.1,407.0 457.7,410.6 461.2,409.9 466.6,411.7 470.2,411.2 475.6,410.6 481.0,412.1 485.5,410.6 490.0,421.0 495.4,418.3 500.7,421.0 506.1,422.8 509.7,425.5 514.2,430.0 518.7,430.4 520.0,430.0 525.4,427.3 530.8,423.7 538.0,421.4 545.1,421.0 548.7,424.6 554.1,430.0 557.7,432.7 563.1,434.5 568.5,436.3 573.9,439.0 579.2,442.6 582.8,447.0 587.3,453.5 590.9,450.3 593.6,453.9 597.2,442.4 599.9,443.3 603.5,447.6 608.0,450.3 613.4,453.9 618.7,459.2 623.2,466.4 626.8,473.6 629.5,472.2 633.1,472.7 634.9,479.0 635.5,482.0" fill="none" stroke="#e05454" stroke-width="1.15" stroke-linejoin="round"/>
<polyline points="402.0,392.3 407.4,389.1 414.6,387.8 421.7,386.9 428.9,385.5 436.1,386.0 443.3,387.3 448.7,386.9 454.1,385.7 459.5,386.0 466.6,386.9 473.8,387.3 481.0,387.8 486.4,387.8 491.8,386.9 497.2,387.8 504.3,388.4 513.3,388.7 520.0,388.9 529.0,390.5 538.0,392.0 546.9,394.1 554.1,397.7 561.3,400.9 568.5,404.9 573.9,412.1 579.2,417.1 584.6,421.0 590.0,423.7 594.5,426.1 598.1,424.6 602.6,428.6 608.0,431.8 609.8,434.1 613.4,437.2 617.0,441.3 618.7,444.4 622.3,448.5 624.1,450.7 627.7,459.2 631.3,468.2 634.0,475.4 635.3,479.0 636.0,482.0" fill="none" stroke="#4848da" stroke-width="1.15" stroke-linejoin="round"/>
</g>
<path d="M402.5,307.5V479.5M402.5,307.5H642.2M402.5,479.5H642.2M402.5,326.5h2.6M642.2,326.5h-2.6M402.5,369.5h2.6M642.2,369.5h-2.6M402.5,411.5h2.6M642.2,411.5h-2.6M402.5,454.5h2.6M642.2,454.5h-2.6M402.5,479.5v-2.6M402.5,307.5v2.6M462.5,479.5v-2.6M462.5,307.5v2.6M521.5,479.5v-2.6M521.5,307.5v2.6M581.5,479.5v-2.6M581.5,307.5v2.6M642.2,479.5v-2.6M642.2,307.5v2.6" stroke="#111" stroke-width="1" fill="none"/>
<g fill="#000">
<text x="397.09" y="333.50" text-anchor="end" textLength="32.29" lengthAdjust="spacingAndGlyphs">0.64</text>
<text x="397.09" y="376.20" text-anchor="end" textLength="32.29" lengthAdjust="spacingAndGlyphs">0.63</text>
<text x="397.09" y="418.80" text-anchor="end" textLength="32.29" lengthAdjust="spacingAndGlyphs">0.62</text>
<text x="397.09" y="461.50" text-anchor="end" textLength="32.29" lengthAdjust="spacingAndGlyphs">0.61</text>
<text x="402.8" y="500.70" text-anchor="middle">100</text>
<text x="462.8" y="500.70" text-anchor="middle">80</text>
<text x="521.8" y="500.70" text-anchor="middle">60</text>
<text x="581.8" y="500.70" text-anchor="middle">40</text>
<text x="642.5" y="500.70" text-anchor="middle">20</text>
<text x="469.40" y="293.50" textLength="105.18" lengthAdjust="spacingAndGlyphs">RXRG_cycle4</text>
<text transform="translate(353.60,429.70) rotate(-90)" x="0" y="0" textLength="68.90" lengthAdjust="spacingAndGlyphs">Accuracy</text>
</g>
<rect x="59.5" y="510.5" width="617" height="29.8" fill="#fff" stroke="#333" stroke-width="1"/>
<path d="M69.7,524.5H121.8" stroke="#4848da" stroke-width="1"/>
<path d="M265.2,524.5H317.5" stroke="#e05454" stroke-width="1"/>
<path d="M430.2,524.5H481.9" stroke="#54d054" stroke-width="1"/>
<text x="127.70" y="532.10" textLength="127.88" lengthAdjust="spacingAndGlyphs">Training set (CV)</text>
<text x="322.90" y="532.10" textLength="99.11" lengthAdjust="spacingAndGlyphs">Test set (CV)</text>
<text x="488.30" y="532.10" textLength="185.89" lengthAdjust="spacingAndGlyphs">Test set (Most Frequent)</text>
</svg>
</body></html>
